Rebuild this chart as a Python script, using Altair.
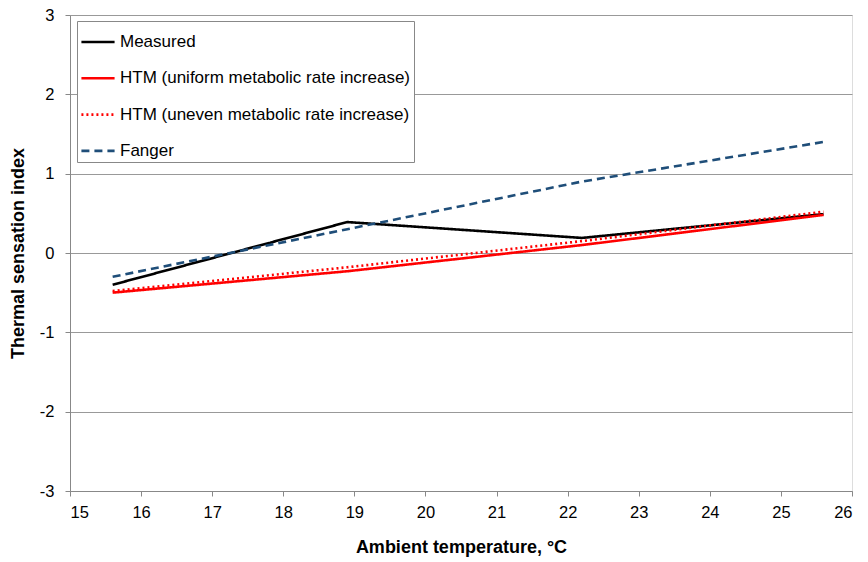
import altair as alt
import pandas as pd

temps = [15.6, 18.9, 22.2, 25.6]
measured = [-0.40, 0.39, 0.19, 0.49]
htm_uniform = [-0.50, -0.23, 0.10, 0.48]
htm_uneven = [-0.48, -0.18, 0.15, 0.52]
fanger = [-0.30, 0.30, 0.90, 1.40]

series_names = [
    "Measured",
    "HTM (uniform metabolic rate increase)",
    "HTM (uneven metabolic rate increase)",
    "Fanger",
]
series_vals = [measured, htm_uniform, htm_uneven, fanger]

rows = []
for name, vals in zip(series_names, series_vals):
    for t, v in zip(temps, vals):
        rows.append({"series": name, "temp": t, "tsi": v})
df = pd.DataFrame(rows)

colors = ["#000000", "#FF0000", "#FF0000", "#1F4E79"]
dashes = [[1, 0], [1, 0], [2, 3], [8, 5]]
font = "Liberation Sans"

chart = (
    alt.Chart(df)
    .mark_line(strokeWidth=2.6)
    .encode(
        x=alt.X(
            "temp:Q",
            scale=alt.Scale(domain=[15, 26], nice=False, zero=False),
            axis=alt.Axis(
                values=list(range(15, 27)),
                title="Ambient temperature, °C",
                grid=False,
                tickColor="#888888",
                domainColor="#888888",
                tickSize=5,
                labelFontSize=16.5,
                labelPadding=8,
                titleFontSize=18,
                titleFontWeight="bold",
                titlePadding=18,
                labelColor="#000000",
                titleColor="#000000",
            ),
        ),
        y=alt.Y(
            "tsi:Q",
            scale=alt.Scale(domain=[-3, 3], nice=False),
            axis=alt.Axis(
                values=list(range(-3, 4)),
                labelExpr="'' + datum.value",
                title="Thermal sensation index",
                gridColor="#999999",
                gridWidth=1.2,
                tickColor="#888888",
                domainColor="#888888",
                tickSize=5,
                labelFontSize=16.5,
                labelPadding=11,
                titleFontSize=18,
                titleFontWeight="bold",
                titlePadding=12,
                labelColor="#000000",
                titleColor="#000000",
            ),
        ),
        color=alt.Color(
            "series:N",
            scale=alt.Scale(domain=series_names, range=colors),
            legend=alt.Legend(
                title=None,
                orient="none",
                legendX=7,
                legendY=6,
                symbolType="stroke",
                symbolSize=1100,
                symbolStrokeWidth=2.6,
                labelFontSize=17,
                labelFont=font,
                labelColor="#000000",
                labelLimit=400,
                rowPadding=10.3,
                strokeColor="#888888",
                fillColor="white",
                padding=3,
                offset=0,
                labelOffset=4,
            ),
        ),
        strokeDash=alt.StrokeDash(
            "series:N",
            scale=alt.Scale(domain=series_names, range=dashes),
            legend=None,
        ),
        order="temp:Q",
        detail="series:N",
    )
    .properties(
        width=782,
        height=476,
        autosize=alt.AutoSizeParams(type="none"),
        padding={"left": 70, "top": 15, "right": 16, "bottom": 71},
    )
    .configure_view(stroke="#888888", strokeWidth=1.2)
    .configure_axis(labelFont=font, titleFont=font)
    .configure(background="white")
)

chart.save("out.html", embed_options={"renderer": "svg", "actions": False})
